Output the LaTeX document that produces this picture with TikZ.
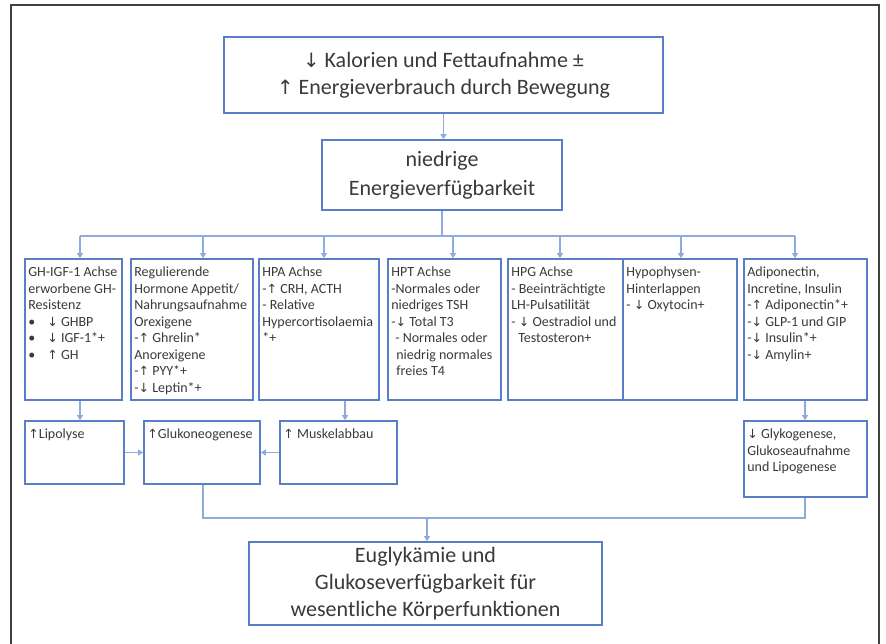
\documentclass[tikz,border=0pt]{standalone}
\usepackage{fontspec}
\setmainfont{Carlito}
\newfontfamily\arrfont{DejaVu Sans}
\usetikzlibrary{arrows.meta}
\definecolor{boxblue}{HTML}{5A7EC6}
\definecolor{lineblue}{HTML}{8FAADC}
\definecolor{txtgray}{HTML}{3A3A3A}
\newcommand\upar{{\arrfont\fontsize{0.9em}{1em}\selectfont ↑}}
\newcommand\dnar{{\arrfont\fontsize{0.9em}{1em}\selectfont ↓}}
\newcommand\blt{\makebox[19pt][l]{•}}
\tikzset{
  bx/.style={draw=boxblue, line width=1.7pt, inner sep=0pt, fill=white},
  bigtxt/.style={align=center, text=txtgray, font=\fontsize{22}{27}\selectfont},
  stxt/.style={anchor=north west, inner sep=0pt, align=left, text=txtgray, font=\fontsize{14}{16.5}\selectfont},
  conn/.style={draw=lineblue, line width=1.1pt},
  tip/.style={-{Triangle[length=5pt,width=6pt]}}
}
\begin{document}
\begin{tikzpicture}[x=1pt,y=-1pt]
\useasboundingbox (0,0) rectangle (886,644);
\fill[white] (0,0) rectangle (886,644);
\draw[black!75, line width=1.6pt] (11,644) -- (11,5) -- (879,5) -- (879,644);

% top boxes
\node[bx, bigtxt, minimum width=439pt, minimum height=76pt] (A) at (443.5,75) {\dnar\ Kalorien und Fettaufnahme ±\\ \upar\ Energieverbrauch durch Bewegung};
\node[bx, bigtxt, minimum width=240pt, minimum height=70pt, font=\fontsize{22}{29}\selectfont] (B) at (442,175) {niedrige\\ Energieverfügbarkeit};

% row of seven boxes (y 259-400)
\node[bx, minimum width=97pt, minimum height=141pt] (b1) at (73.5,329.5) {};
\node[bx, minimum width=122pt, minimum height=141pt] (b2) at (192,329.5) {};
\node[bx, minimum width=120pt, minimum height=141pt] (b3) at (319,329.5) {};
\node[bx, minimum width=113pt, minimum height=141pt] (b4) at (444.5,329.5) {};
\node[bx, minimum width=115pt, minimum height=141pt] (b5) at (565.5,329.5) {};
\node[bx, minimum width=114pt, minimum height=141pt] (b6) at (680,329.5) {};
\node[bx, minimum width=123pt, minimum height=141pt] (b7) at (805.5,329.5) {};

\node[stxt] (t1) at ([xshift=4pt,yshift=-8.5pt]b1.north west) {GH-IGF-1 Achse\\erworbene GH-\\Resistenz\\\blt\dnar\ GHBP\\\blt\dnar\ IGF-1*+\\\blt\upar\ GH};
\node[stxt] (t2) at ([xshift=4pt,yshift=-8.5pt]b2.north west) {Regulierende\\Hormone Appetit/\\Nahrungsaufnahme\\Orexigene\\-\upar\ Ghrelin*\\Anorexigene\\-\upar\ PYY*+\\-\dnar\ Leptin*+};
\node[stxt] (t3) at ([xshift=4pt,yshift=-8.5pt]b3.north west) {HPA Achse\\-\upar\ CRH, ACTH\\- Relative\\Hypercortisolaemia\\*+};
\node[stxt] (t4) at ([xshift=4pt,yshift=-8.5pt]b4.north west) {HPT Achse\\-Normales oder\\niedriges TSH\\-\dnar\ Total T3\\\hspace*{4pt}- Normales oder\\\hspace*{5pt}niedrig normales\\\hspace*{5pt}freies T4};
\node[stxt] (t5) at ([xshift=4pt,yshift=-8.5pt]b5.north west) {HPG Achse\\- Beeinträchtigte\\LH-Pulsatilität\\- \dnar\ Oestradiol und\\\hspace*{7pt}Testosteron+};
\node[stxt] (t6) at ([xshift=4pt,yshift=-8.5pt]b6.north west) {Hypophysen-\\Hinterlappen\\- \dnar\ Oxytocin+};
\node[stxt] (t7) at ([xshift=4pt,yshift=-8.5pt]b7.north west) {Adiponectin,\\Incretine, Insulin\\-\upar\ Adiponectin*+\\-\dnar\ GLP-1 und GIP\\-\dnar\ Insulin*+\\-\dnar\ Amylin+};

% lower boxes
\node[bx, minimum width=99pt, minimum height=63pt] (L1) at (74.5,452.5) {};
\node[bx, minimum width=116pt, minimum height=63pt] (L2) at (202,452.5) {};
\node[bx, minimum width=117pt, minimum height=63pt] (L3) at (338.5,452.5) {};
\node[bx, minimum width=123pt, minimum height=76pt] (L4) at (805.5,459) {};
\node[stxt] (u1) at ([xshift=4pt,yshift=-8.5pt]L1.north west) {\upar Lipolyse};
\node[stxt] (u2) at ([xshift=4pt,yshift=-8.5pt]L2.north west) {\upar Glukoneogenese};
\node[stxt] (u3) at ([xshift=4pt,yshift=-8.5pt]L3.north west) {\upar\ Muskelabbau};
\node[stxt] (u4) at ([xshift=4pt,yshift=-8.5pt]L4.north west) {\dnar\ Glykogenese,\\Glukoseaufnahme\\und Lipogenese};

% final box
\node[bx, bigtxt, minimum width=353pt, minimum height=83pt] (E) at (425.5,583.5) {Euglykämie und\\Glukoseverfügbarkeit für\\wesentliche Körperfunktionen};

% connectors
\draw[conn,tip] (A.south) -- (A.south |- B.north);
\coordinate (j1) at (80,236);
\coordinate (j2) at (203,236);
\coordinate (j3) at (324,236);
\coordinate (j4) at (453,236);
\coordinate (j5) at (560,236);
\coordinate (j6) at (681,236);
\coordinate (j7) at (795,236);
\draw[conn] (B.south) -- (B.south |- j1);
\draw[conn] (j1) -- (j7);
\foreach \k in {1,...,7}{\draw[conn,tip] (j\k) -- (j\k |- b\k.north);}

\coordinate (k3) at (345,0);
\coordinate (k7) at (805,0);
\draw[conn,tip] (j1 |- b1.south) -- (j1 |- L1.north);
\draw[conn,tip] (k3 |- b3.south) -- (k3 |- L3.north);
\draw[conn,tip] (k7 |- b7.south) -- (k7 |- L4.north);
\draw[conn,tip] (L1.east) -- (L2.west);
\draw[conn,tip] (L3.west) -- (L2.east);

\coordinate (c1) at (203,518);
\coordinate (c2) at (805,518);
\coordinate (cE) at (427,518);
\draw[conn] (c1 |- L2.south) -- (c1) -- (c2) -- (c2 |- L4.south);
\draw[conn,tip] (cE) -- (cE |- E.north);
\end{tikzpicture}
\end{document}
